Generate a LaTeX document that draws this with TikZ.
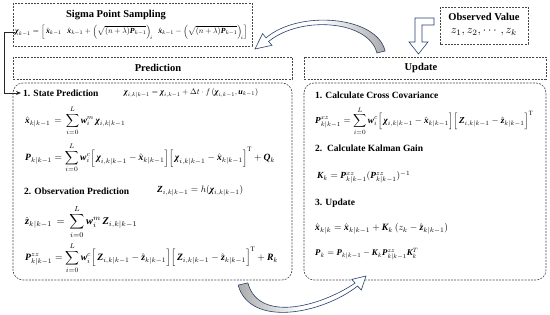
\documentclass[tikz,border=0pt]{standalone}
\usepackage{amsmath}
\usepackage{graphicx}
\usepackage{fontspec}
\setmainfont{Liberation Serif}
\usetikzlibrary{arrows.meta}
\definecolor{dashcol}{RGB}{70,70,70}
\definecolor{arrowblue}{RGB}{38,64,110}
\newcommand\bi[1]{\text{\normalfont\bfseries\itshape #1}}
\newcommand\fx[2]{\resizebox{#1pt}{!}{$\displaystyle #2$}}
\tikzset{
  box/.style={draw=dashcol, line width=0.6pt, dash pattern=on 2pt off 1.2pt},
  hdr/.style={font=\fontsize{10.5}{12}\selectfont\bfseries, inner sep=0},
  lbl/.style={font=\fontsize{9.5}{11}\selectfont\bfseries, anchor=west, inner sep=0},
  eq/.style={anchor=west, inner sep=0},
  conn/.style={draw=black!85, line width=0.9pt, -{Stealth[length=5pt,width=4pt]}},
  hollow/.style={draw=arrowblue, line width=0.6pt},
}
\begin{document}
\begin{tikzpicture}[x=1pt,y=-1pt]
\useasboundingbox (0,0) rectangle (550,315);
% boxes
\draw[box] (13,3) rectangle (252,46);
\draw[box] (440,7) rectangle (528,44);
\draw[box] (13,57) rectangle (292,79);
\draw[box] (304,57) rectangle (546,79);
\draw[box, rounded corners=10pt] (13,83) rectangle (292,280);
\draw[box, rounded corners=10pt] (304,83) rectangle (546,280);
% sigma
\node[hdr] (sigt) at (116,15) {Sigma Point Sampling};
\node[eq] (sig) at (15,32) {\fx{232}{\bi{χ}_{k-1} = \Big[\,\hat{\bi{x}}_{k-1}\;\;\, \hat{\bi{x}}_{k-1} + \Big(\sqrt{(n+\lambda)\bi{P}_{k-1}}\Big)_{\!i} \;\;\, \hat{\bi{x}}_{k-1} - \Big(\sqrt{(n+\lambda)\bi{P}_{k-1}}\Big)_{\!i}\Big]}};
% observed
\node[hdr] (obst) at (484,17) {Observed Value};
\node[inner sep=0] (obsz) at (484,32) {\fx{66}{z_1,z_2,\cdots,z_k}};
% headers
\node[hdr] (pred) at (158,68) {Prediction};
\node[hdr] (upd) at (421,68) {Update};
% prediction body
\node[lbl] (sp) at (23,93) {1. State Prediction};
\node[eq] (spf) at (124,93) {\fx{134}{\bi{χ}_{i,k|k-1} = \bi{χ}_{i,k-1} + \Delta t\cdot f\,(\bi{χ}_{i,k-1},\bi{u}_{k-1})}};
\node[eq] (xh) at (25,121) {\fx{100}{\hat{\bi{x}}_{k|k-1} \,=\, \sum_{i=0}^{L}\bi{w}_i^{m}\,\bi{χ}_{i,k|k-1}}};
\node[eq] (pp) at (25,158) {\fx{250}{\bi{P}_{k|k-1} = \sum_{i=0}^{L}\bi{w}_i^{c}\Big[\,\bi{χ}_{i,k|k-1}-\hat{\bi{x}}_{k|k-1}\Big]\Big[\,\bi{χ}_{i,k|k-1}-\hat{\bi{x}}_{k|k-1}\Big]^{\mathrm{T}}+\bi{Q}_k}};
\node[lbl] (op) at (24,191) {2. Observation Prediction};
\node[eq] (zf) at (157,191) {\fx{86}{\bi{Z}_{i,k|k-1} = h(\bi{χ}_{i,k|k-1})}};
\node[eq] (zh) at (25,222) {\fx{112}{\hat{\bi{z}}_{k|k-1} \,=\, \sum_{i=0}^{L}\bi{w}_i^{m}\,\bi{Z}_{i,k|k-1}}};
\node[eq] (pzz) at (25,258) {\fx{253}{\bi{P}^{zz}_{k|k-1} = \sum_{i=0}^{L}\bi{w}_i^{c}\Big[\,\bi{Z}_{i,k|k-1}-\hat{\bi{z}}_{k|k-1}\Big]\Big[\,\bi{Z}_{i,k|k-1}-\hat{\bi{z}}_{k|k-1}\Big]^{\mathrm{T}}+\bi{R}_k}};
% update body
\node[lbl] (cc) at (315,95) {1. Calculate Cross Covariance};
\node[eq] (pxz) at (315,121) {\fx{218}{\bi{P}^{xz}_{k|k-1} = \sum_{i=0}^{L}\bi{w}_i^{c}\Big[\,\bi{χ}_{i,k|k-1}-\hat{\bi{x}}_{k|k-1}\Big]\Big[\,\bi{Z}_{i,k|k-1}-\hat{\bi{z}}_{k|k-1}\Big]^{\mathrm{T}}}};
\node[lbl] (kg) at (315,148) {2.\ \ Calculate Kalman Gain};
\node[eq] (kf) at (317,177) {\fx{93}{\bi{K}_k = \bi{P}^{xz}_{k|k-1}(\bi{P}^{zz}_{k|k-1})^{-1}}};
\node[lbl] (up) at (315,203) {3. Update};
\node[eq] (xkk) at (315,229) {\fx{133}{\hat{\bi{x}}_{k|k} = \hat{\bi{x}}_{k|k-1} + \bi{K}_k\,(z_k-\hat{\bi{z}}_{k|k-1})}};
\node[eq] (pk) at (315,254) {\fx{103}{\bi{P}_k = \bi{P}_{k|k-1} - \bi{K}_k\bi{P}^{zz}_{k|k-1}\bi{K}_k^{T}}};
% left connector
\draw[conn, shorten >=2pt] (sig.west) -- ++(-11,0) |- (sp.west);
% L-shaped hollow arrow
\draw[hollow, fill=white] (434,18) -- (415,18) -- (415,42) -- (409,42) -- (418.5,54) -- (428,42) -- (422,42) -- (422,25) -- (434,25) -- cycle;
% top curved arrow (update -> sigma)
\draw[hollow, left color=white, right color=gray!65, middle color=white]
  (385.1,51.0) .. controls (377,16) and (299,9.5) .. (266.0,37.9)
  -- (262.6,33.6) -- (255,49) -- (272.0,45.3) -- (268.6,41.5)
  .. controls (301,15) and (369,20.5) .. (376.9,53.0) -- cycle;
% bottom curved arrow (prediction -> update)
\draw[hollow, left color=gray!65, right color=white, middle color=white]
  (238.1,285.1) .. controls (250,328) and (322,314) .. (357.5,286.1)
  -- (361.3,290.0) -- (366,276) -- (351.9,279.4) -- (355.1,283.1)
  .. controls (318,308) and (258,322) .. (247.9,282.9) -- cycle;
\end{tikzpicture}
\end{document}
